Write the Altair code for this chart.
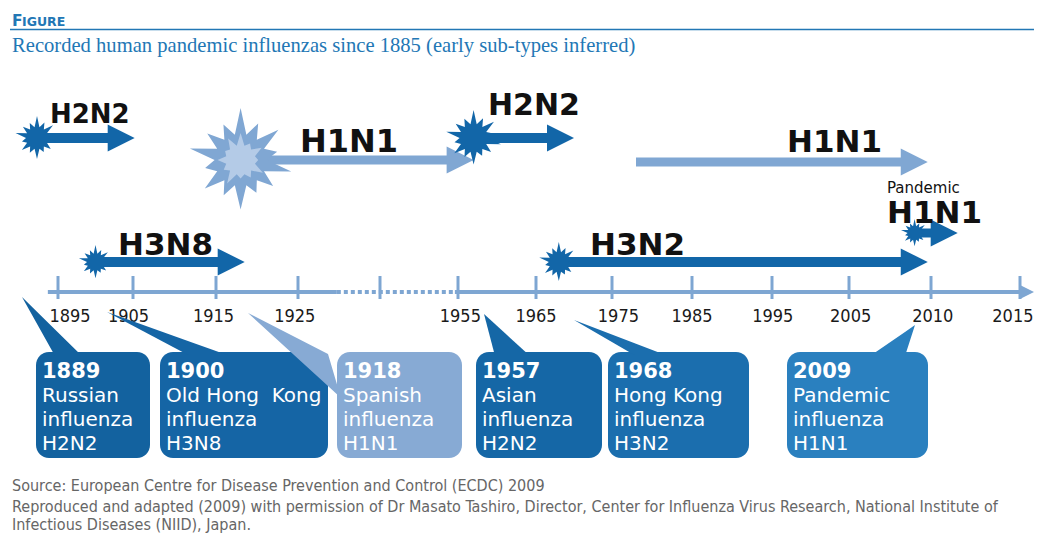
import math
import altair as alt
import pandas as pd

# ---------------- data ----------------
title_word = ["F", "IGURE"]
subtitle_text = "Recorded human pandemic influenzas since 1885 (early sub-types inferred)"
footer_lines = [
    "Source: European Centre for Disease Prevention and Control (ECDC) 2009",
    "Reproduced and adapted (2009) with permission of Dr Masato Tashiro, Director, Center for Influenza Virus Research, National Institute of",
    "Infectious Diseases (NIID), Japan.",
]

tick_years = [1895, 1905, 1915, 1925, 1955, 1965, 1975, 1985, 1995, 2005, 2010, 2015]
tick_label_pos = [1896.6, 1904.4, 1914.7, 1924.6, 1955.3, 1965, 1975.8, 1985, 1995.1, 2005.1, 2010.1, 2014.6]
break_tick = [1940]                       # unlabelled tick inside the dotted break
axis_solid = [(1892.1, 1932.1), (1954.4, 2015.8)]
axis_dotted = [(1932.1, 1954.4)]
axis_end = [2016.4]

event_years = ["1889", "1900", "1918", "1957", "1968", "2009"]
event_names = [["Russian", "influenza"], ["Old Hong\u00a0 Kong", "influenza"],
               ["Spanish", "influenza"], ["Asian", "influenza"],
               ["Hong Kong", "influenza"], ["Pandemic", "influenza"]]
event_subtypes = ["H2N2", "H3N8", "H1N1", "H2N2", "H3N2", "H1N1"]

arrow_subtype = ["H2N2", "H3N8", "H1N1", "H2N2", "H1N1", "H3N2", "H1N1"]
arrow_start = [1889, 1900, 1918, 1957, 1978, 1968, 2009]
arrow_end = [1905.2, 1918.5, 1957, 1970, 2009.8, 2009.8, 2011.5]
star_year = [1889, 1900, 1918, 1957, None, 1968, 2009]
pandemic_note = "Pandemic"

# ---------------- layout / style ----------------
W, H, M = 1042, 533, 8
VW, VH = W - 2 * M, H - M

DARK = "#1266a8"
LIGHT = "#80a7d3"
PALE = "#b4cbe7"
AXIS = "#7ea6d2"
BLUE_T = "#2277b5"

# broken (piecewise) year axis
year_dom = [1885, 1895, 1905, 1915, 1925, 1940, 1955, 1965, 1975, 1985, 1995, 2005, 2010, 2015, 2017]
year_rng = [23, 58, 133, 216, 298, 380, 458, 536, 612, 692, 772, 849, 931, 1020, 1040]
YS = alt.Scale(domain=year_dom, range=[v - M for v in year_rng], clamp=False, zero=False, nice=False)
PX = alt.Scale(domain=[M, M + VW], range=[0, VW], zero=False, nice=False)
PY = alt.Scale(domain=[M, M + VH], range=[0, VH], zero=False, nice=False)

arrow_row = [138, 262, 160, 138, 162, 262, 233]
arrow_col = [DARK, DARK, LIGHT, DARK, LIGHT, DARK, DARK]
arrow_w = [10, 10, 9, 10, 9, 10, 9]
star_r = [22, 17, 52, 28, 0, 20, 14]
label_x = [50, 118, 300, 488, 787, 590, 887]
label_y = [123, 255, 152, 115, 152, 255, 223]
label_fs = [26, 31, 32, 30, 31, 31, 31]

box_left = [36, 160, 337, 476, 608, 787]
box_right = [150, 328, 462, 602, 749, 928]
box_top, box_bot = 352, 458
box_col = ["#13629f", "#1565a5", "#87aad4", "#1567a6", "#1b6eae", "#2a80bf"]
tail_tip = [(22, 297), (107, 312), (248, 313), (484, 314), (574, 320), (915, 325)]
tail_base = [((55, 356), (82, 356)), ((190, 356), (230, 356)), ((328, 354), (341, 398)),
             ((495, 356), (530, 356)), ((636, 356), (668, 356)), ((870, 356), (905, 356))]


def star_path(radii, inner):
    n = len(radii)
    pts = []
    for i, r in enumerate(radii):
        a = 2 * math.pi * i / n - math.pi / 2
        pts.append((r * math.cos(a), r * math.sin(a)))
        b = a + math.pi / n
        pts.append((inner * math.cos(b), inner * math.sin(b)))
    return "M " + " L ".join(f"{x:.3f} {y:.3f}" for x, y in pts) + " Z"


STAR_A = star_path([1.0, 0.78, 0.93, 0.72, 1.0, 0.8, 0.7, 0.95, 0.75, 0.88, 0.7, 1.0, 0.82, 0.76], 0.5)
STAR_B = star_path([1.0, 0.7, 0.9, 0.65, 0.95, 0.75, 0.68, 1.0, 0.72, 0.85, 0.66, 0.92], 0.55)
HEAD = "M -2 -1 L 0 0 L -2 1 Z"

# ---------------- tables ----------------
arrows = pd.DataFrame({"sub": arrow_subtype, "x0": arrow_start, "x1": arrow_end,
                       "py": arrow_row, "col": arrow_col, "sw": arrow_w})

star_rows = []
for yr, r, row, col in zip(star_year, star_r, arrow_row, arrow_col):
    if yr is None:
        continue
    star_rows.append({"year": yr, "py": row, "size": (2 * r) ** 2, "col": col, "shape": STAR_A})
    if col == LIGHT:
        star_rows.append({"year": yr, "py": row, "size": (2 * r * 0.52) ** 2, "col": PALE, "shape": STAR_B})
stars = pd.DataFrame(star_rows)

labels = pd.DataFrame({"text": arrow_subtype, "px": label_x, "py": label_y, "fs": label_fs})

boxes = pd.DataFrame({"x0": box_left, "x1": box_right, "y0": box_top, "y1": box_bot, "col": box_col})


def tri_rows(pts, key, col):
    edges = [(pts[0], pts[1]), (pts[1], pts[2]), (pts[2], pts[0])]
    rows = []
    for x in sorted(set(p[0] for p in pts)):
        ys = []
        for (x1, y1), (x2, y2) in edges:
            if min(x1, x2) <= x <= max(x1, x2):
                if x1 == x2:
                    ys += [y1, y2]
                else:
                    ys.append(y1 + (y2 - y1) * (x - x1) / (x2 - x1))
        rows.append({"px": x, "ya": min(ys), "yb": max(ys), "key": key, "col": col})
    return rows


tail_rows = []
for i, (tip, base) in enumerate(zip(tail_tip, tail_base)):
    tail_rows += tri_rows([tip, base[0], base[1]], i, box_col[i])
tails = pd.DataFrame(tail_rows)

box_year_rows, box_line_rows = [], []
for i, (yr, names, st) in enumerate(zip(event_years, event_names, event_subtypes)):
    x = box_left[i] + 6
    box_year_rows.append({"px": x, "py": 378, "text": yr})
    for j, t in enumerate(names + [st]):
        box_line_rows.append({"px": x, "py": 402 + 24 * j, "text": t})
box_years = pd.DataFrame(box_year_rows)
box_lines = pd.DataFrame(box_line_rows)

ticks = pd.DataFrame({"year": tick_years + break_tick})
tick_labels = pd.DataFrame({"year": tick_label_pos, "text": [str(y) for y in tick_years]})
solid = pd.DataFrame({"x0": [a for a, b in axis_solid], "x1": [b for a, b in axis_solid]})
dotted = pd.DataFrame({"x0": [a for a, b in axis_dotted], "x1": [b for a, b in axis_dotted]})


# ---------------- helpers ----------------
def txt(df, size, font, weight="normal", color="#000", align="left"):
    return alt.Chart(df).mark_text(align=align, baseline="alphabetic", font=font,
                                   fontWeight=weight, fontSize=size, color=color).encode(
        x=alt.X("px:Q", scale=PX, axis=None),
        y=alt.Y("py:Q", scale=PY, axis=None),
        text="text:N")


layers = []
# title block
layers.append(txt(pd.DataFrame({"px": [12], "py": [26], "text": [title_word[0]]}), 15.5, "DejaVu Sans", "bold", BLUE_T))
layers.append(txt(pd.DataFrame({"px": [22], "py": [26], "text": [title_word[1]]}), 12.5, "DejaVu Sans", "bold", BLUE_T))
layers.append(alt.Chart(pd.DataFrame({"a": [10], "b": [1042], "py": [29.5]})).mark_rule(
    color=BLUE_T, strokeWidth=1.3).encode(
    x=alt.X("a:Q", scale=PX, axis=None), x2="b:Q", y=alt.Y("py:Q", scale=PY, axis=None)))
layers.append(txt(pd.DataFrame({"px": [12], "py": [52], "text": [subtitle_text]}), 20.6, "Liberation Serif", "normal", BLUE_T))

# arrows
layers.append(alt.Chart(arrows).mark_rule(x2Offset=-18).encode(
    x=alt.X("x0:Q", scale=YS, axis=None), x2="x1:Q",
    y=alt.Y("py:Q", scale=PY, axis=None),
    color=alt.Color("col:N", scale=None),
    strokeWidth=alt.StrokeWidth("sw:Q", scale=None)))
layers.append(alt.Chart(arrows).mark_point(shape=HEAD, filled=True, opacity=1, strokeWidth=0, size=729).encode(
    x=alt.X("x1:Q", scale=YS, axis=None),
    y=alt.Y("py:Q", scale=PY, axis=None),
    color=alt.Color("col:N", scale=None)))
# stars
layers.append(alt.Chart(stars).mark_point(filled=True, opacity=1, strokeWidth=0).encode(
    x=alt.X("year:Q", scale=YS, axis=None),
    y=alt.Y("py:Q", scale=PY, axis=None),
    size=alt.Size("size:Q", scale=None),
    shape=alt.Shape("shape:N", scale=None),
    color=alt.Color("col:N", scale=None)))
# sub-type labels
layers.append(alt.Chart(labels).mark_text(align="left", baseline="alphabetic", font="DejaVu Sans",
                                          fontWeight="bold", color="#111").encode(
    x=alt.X("px:Q", scale=PX, axis=None), y=alt.Y("py:Q", scale=PY, axis=None),
    size=alt.Size("fs:Q", scale=None), text="text:N"))
layers.append(txt(pd.DataFrame({"px": [887], "py": [193], "text": [pandemic_note]}), 15, "DejaVu Sans", "normal", "#111"))

# axis
layers.append(alt.Chart(solid).mark_rule(color=AXIS, strokeWidth=4).encode(
    x=alt.X("x0:Q", scale=YS, axis=None), x2="x1:Q", y=alt.value(292 - M)))
layers.append(alt.Chart(dotted).mark_rule(color=AXIS, strokeWidth=4, strokeDash=[4, 3]).encode(
    x=alt.X("x0:Q", scale=YS, axis=None), x2="x1:Q", y=alt.value(292 - M)))
layers.append(alt.Chart(ticks).mark_rule(color=AXIS, strokeWidth=3).encode(
    x=alt.X("year:Q", scale=YS, axis=None), y=alt.value(276 - M), y2=alt.value(299 - M)))
layers.append(alt.Chart(pd.DataFrame({"year": axis_end})).mark_point(
    shape=HEAD, filled=True, opacity=1, strokeWidth=0, size=196, color=AXIS).encode(
    x=alt.X("year:Q", scale=YS, axis=None), y=alt.value(292 - M)))
layers.append(alt.Chart(tick_labels).mark_text(align="center", baseline="alphabetic",
                                               font="DejaVu Sans Condensed", fontSize=18, color="#1a1a1a").encode(
    x=alt.X("year:Q", scale=YS, axis=None), y=alt.value(322 - M), text="text:N"))

# callout boxes
layers.append(alt.Chart(boxes).mark_rect(cornerRadius=13).encode(
    x=alt.X("x0:Q", scale=PX, axis=None), x2="x1:Q",
    y=alt.Y("y0:Q", scale=PY, axis=None), y2="y1:Q",
    color=alt.Color("col:N", scale=None)))
layers.append(alt.Chart(tails).mark_area(interpolate="linear").encode(
    x=alt.X("px:Q", scale=PX, axis=None),
    y=alt.Y("ya:Q", scale=PY, axis=None), y2="yb:Q",
    detail="key:N",
    color=alt.Color("col:N", scale=None)))
layers.append(txt(box_years, 21, "DejaVu Sans", "bold", "white"))
layers.append(txt(box_lines, 20, "DejaVu Sans", "normal", "white"))

# footer
layers.append(txt(pd.DataFrame({"px": [12, 12, 12], "py": [491, 512, 530], "text": footer_lines}),
                  16, "DejaVu Sans Condensed", "normal", "#666666"))

chart = alt.layer(*layers).resolve_scale(x="independent").properties(
    width=VW, height=VH, padding=0, autosize=alt.AutoSizeParams(type="none"),
    background="white"
).configure_view(stroke=None)

chart.save("out.html", embed_options={"renderer": "svg", "actions": False})
